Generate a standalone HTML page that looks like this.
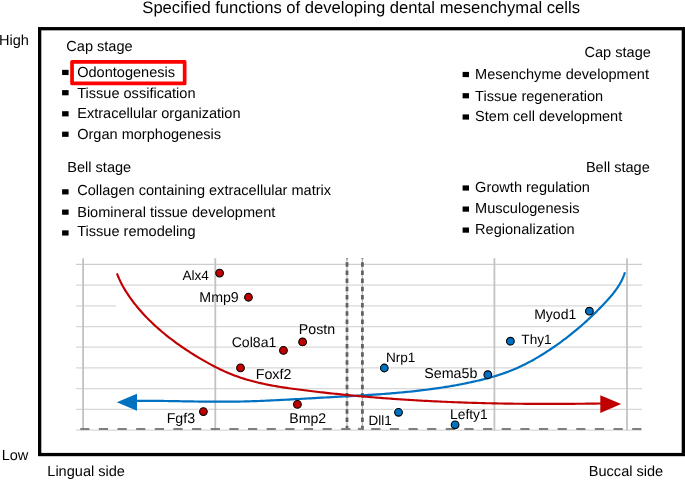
<!DOCTYPE html>
<html><head><meta charset="utf-8"><title>Specified functions of developing dental mesenchymal cells</title>
<style>html,body{margin:0;padding:0;background:#fff;width:685px;height:480px;overflow:hidden}svg{display:block;will-change:transform}text{font-family:"Liberation Sans",sans-serif}</style>
</head><body>
<svg width="685" height="480" viewBox="0 0 685 480" font-family="Liberation Sans, sans-serif" font-size="14.56" fill="#000" text-rendering="geometricPrecision"><text x="142.30" y="12.80" font-size="16.63">Specified functions of developing dental mesenchymal cells</text>
<text x="-1.00" y="44.70">High</text>
<text x="1.70" y="459.80">Low</text>
<text x="47.30" y="475.90">Lingual side</text>
<text x="588.80" y="476.00">Buccal side</text>
<rect x="39.65" y="28.7" width="643.7" height="425.85" fill="none" stroke="#000" stroke-width="3.3"/>
<text x="66.30" y="51.40">Cap stage</text>
<text x="77.20" y="76.80">Odontogenesis</text>
<rect x="62.1" y="69.85" width="6.5" height="5.2"/>
<text x="77.20" y="98.40">Tissue ossification</text>
<rect x="62.1" y="90.10" width="6.5" height="5.2"/>
<text x="77.20" y="117.70">Extracellular organization</text>
<rect x="62.1" y="111.20" width="6.5" height="5.2"/>
<text x="77.20" y="139.30">Organ morphogenesis</text>
<rect x="62.1" y="131.65" width="6.5" height="5.2"/>
<text x="67.30" y="172.20">Bell stage</text>
<text x="77.20" y="195.10">Collagen containing extracellular matrix</text>
<rect x="62.1" y="189.25" width="6.5" height="5.2"/>
<text x="77.20" y="216.70">Biomineral tissue development</text>
<rect x="62.1" y="209.55" width="6.5" height="5.2"/>
<text x="77.20" y="236.00">Tissue remodeling</text>
<rect x="62.1" y="230.35" width="6.5" height="5.2"/>
<rect x="72.05" y="61.95" width="112.6" height="21.5" fill="none" stroke="#ff0000" stroke-width="3.7" stroke-linejoin="round"/>
<text x="584.50" y="56.80">Cap stage</text>
<text x="475.10" y="79.30">Mesenchyme development</text>
<rect x="462.6" y="71.90" width="6.4" height="5.2"/>
<text x="475.10" y="100.70">Tissue regeneration</text>
<rect x="462.6" y="93.15" width="6.4" height="5.2"/>
<text x="475.10" y="121.40">Stem cell development</text>
<rect x="462.6" y="114.40" width="6.4" height="5.2"/>
<text x="585.90" y="171.70">Bell stage</text>
<text x="475.10" y="191.60">Growth regulation</text>
<rect x="462.6" y="185.40" width="6.4" height="5.2"/>
<text x="475.10" y="212.80">Musculogenesis</text>
<rect x="462.6" y="206.50" width="6.4" height="5.2"/>
<text x="475.10" y="233.80">Regionalization</text>
<rect x="462.6" y="227.50" width="6.4" height="5.2"/>
<g stroke="#d8d8d8" stroke-width="1.25"><line x1="76" y1="264.4" x2="642" y2="264.4" stroke="#cdcdcd"/><line x1="76" y1="285.1" x2="642" y2="285.1"/><line x1="76" y1="305.8" x2="116" y2="305.8"/><line x1="137" y1="305.8" x2="642" y2="305.8"/><line x1="76" y1="326.5" x2="642" y2="326.5"/><line x1="76" y1="347.2" x2="642" y2="347.2"/><line x1="76" y1="367.9" x2="642" y2="367.9"/><line x1="76" y1="388.6" x2="642" y2="388.6"/><line x1="76" y1="409.3" x2="642" y2="409.3"/><line x1="76" y1="430.0" x2="642" y2="430.0"/></g>
<g fill="#fff"><circle cx="219.60" cy="273.10" r="5.5"/><circle cx="248.45" cy="297.25" r="5.5"/><circle cx="283.45" cy="350.40" r="5.5"/><circle cx="302.60" cy="341.95" r="5.5"/><circle cx="240.50" cy="367.90" r="5.5"/><circle cx="203.40" cy="411.60" r="5.5"/><circle cx="297.40" cy="404.40" r="5.5"/><circle cx="384.30" cy="368.00" r="5.5"/><circle cx="398.50" cy="412.30" r="5.5"/><circle cx="455.10" cy="424.80" r="5.5"/><circle cx="487.80" cy="374.70" r="5.5"/><circle cx="510.40" cy="341.20" r="5.5"/><circle cx="589.40" cy="311.20" r="5.5"/></g>
<g stroke="#c2c2c2" stroke-width="1.8"><line x1="83.1" y1="258.2" x2="83.1" y2="430.5"/><line x1="215.3" y1="258.2" x2="215.3" y2="430.5"/><line x1="494.4" y1="258.2" x2="494.4" y2="430.5"/><line x1="627.0" y1="258.2" x2="627.0" y2="430.5"/></g>
<line x1="347.0" y1="258.2" x2="347.0" y2="430" stroke="#b8b8b8" stroke-width="1.2"/>
<line x1="347.0" y1="258.2" x2="347.0" y2="259.2" stroke="#777" stroke-width="2"/>
<line x1="347.0" y1="262.2" x2="347.0" y2="430" stroke="#626262" stroke-width="2.8" stroke-dasharray="4.5 3.675"/>
<line x1="362.4" y1="258.2" x2="362.4" y2="430" stroke="#b8b8b8" stroke-width="1.2"/>
<line x1="362.4" y1="258.2" x2="362.4" y2="259.2" stroke="#777" stroke-width="2"/>
<line x1="362.4" y1="262.2" x2="362.4" y2="430" stroke="#626262" stroke-width="2.8" stroke-dasharray="4.5 3.675"/>
<line x1="80.25" y1="428.9" x2="350.5" y2="428.9" stroke="#7f7f7f" stroke-width="2" stroke-dasharray="9.2 9.44"/>
<line x1="357.9" y1="428.9" x2="363.4" y2="428.9" stroke="#7f7f7f" stroke-width="2"/>
<line x1="371.2" y1="428.9" x2="642" y2="428.9" stroke="#7f7f7f" stroke-width="2" stroke-dasharray="9.2 9.44"/>
<path d="M135.03,400.80 L137.01,400.79 L139.00,400.79 L140.98,400.79 L142.96,400.79 L144.95,400.80 L146.93,400.80 L148.92,400.82 L150.91,400.83 L152.89,400.85 L154.88,400.87 L156.87,400.89 L158.86,400.91 L160.85,400.94 L162.84,400.97 L164.83,400.99 L166.82,401.02 L168.82,401.06 L170.81,401.09 L172.80,401.12 L174.80,401.15 L176.79,401.19 L178.79,401.22 L180.78,401.26 L182.78,401.29 L184.78,401.33 L186.77,401.36 L188.77,401.40 L190.77,401.43 L192.77,401.46 L194.77,401.49 L196.77,401.52 L198.76,401.55 L200.77,401.58 L202.77,401.60 L204.77,401.63 L206.77,401.65 L208.77,401.67 L210.77,401.68 L212.77,401.70 L214.78,401.71 L216.78,401.72 L218.78,401.72 L220.79,401.72 L222.79,401.72 L224.79,401.72 L226.80,401.71 L228.80,401.69 L230.81,401.68 L232.81,401.65 L234.82,401.63 L236.82,401.60 L238.83,401.56 L240.84,401.52 L242.84,401.48 L244.85,401.43 L246.85,401.38 L248.86,401.32 L250.87,401.26 L252.87,401.19 L254.88,401.12 L256.89,401.05 L258.89,400.98 L260.90,400.90 L262.91,400.82 L264.91,400.73 L266.92,400.65 L268.93,400.56 L270.93,400.47 L272.94,400.37 L274.95,400.27 L276.95,400.17 L278.96,400.07 L280.97,399.97 L282.97,399.87 L284.98,399.76 L286.99,399.65 L288.99,399.54 L291.00,399.43 L293.01,399.32 L295.01,399.21 L297.02,399.09 L299.02,398.98 L301.03,398.87 L303.03,398.75 L305.04,398.64 L307.04,398.52 L309.05,398.41 L311.05,398.29 L313.06,398.18 L315.06,398.06 L317.06,397.95 L319.07,397.83 L321.07,397.72 L323.07,397.61 L325.08,397.50 L327.08,397.39 L329.08,397.28 L331.08,397.17 L333.08,397.06 L335.08,396.95 L337.08,396.84 L339.08,396.73 L341.08,396.62 L343.08,396.51 L345.08,396.40 L347.08,396.29 L349.08,396.18 L351.07,396.06 L353.07,395.95 L355.07,395.83 L357.06,395.71 L359.06,395.59 L361.05,395.47 L363.05,395.35 L365.04,395.23 L367.03,395.10 L369.03,394.97 L371.02,394.84 L373.01,394.71 L375.00,394.57 L376.99,394.43 L378.98,394.29 L380.97,394.15 L382.96,394.00 L384.94,393.85 L386.93,393.70 L388.92,393.54 L390.90,393.38 L392.89,393.21 L394.87,393.05 L396.85,392.87 L398.84,392.70 L400.82,392.52 L402.80,392.33 L404.78,392.14 L406.76,391.95 L408.74,391.75 L410.72,391.54 L412.69,391.34 L414.67,391.12 L416.64,390.90 L418.62,390.68 L420.59,390.45 L422.57,390.21 L424.54,389.97 L426.51,389.72 L428.48,389.47 L430.45,389.21 L432.42,388.94 L434.38,388.67 L436.35,388.39 L438.31,388.11 L440.28,387.81 L442.24,387.51 L444.20,387.21 L446.17,386.89 L448.13,386.57 L450.09,386.24 L452.04,385.91 L454.00,385.56 L455.96,385.21 L457.91,384.85 L459.87,384.48 L461.82,384.11 L463.77,383.72 L465.72,383.33 L467.67,382.93 L469.62,382.52 L471.56,382.10 L473.51,381.67 L475.46,381.23 L477.40,380.78 L479.34,380.32 L481.28,379.85 L483.21,379.37 L485.15,378.87 L487.08,378.36 L489.01,377.84 L490.93,377.30 L492.85,376.75 L494.77,376.18 L496.68,375.60 L498.59,375.00 L500.49,374.38 L502.39,373.74 L504.28,373.09 L506.17,372.41 L508.05,371.71 L509.93,371.00 L511.80,370.26 L513.67,369.50 L515.52,368.72 L517.38,367.92 L519.22,367.09 L521.06,366.23 L522.88,365.36 L524.71,364.46 L526.52,363.54 L528.32,362.60 L530.12,361.64 L531.91,360.67 L533.69,359.67 L535.46,358.66 L537.22,357.63 L538.97,356.59 L540.71,355.54 L542.44,354.47 L544.16,353.39 L545.87,352.30 L547.56,351.20 L549.25,350.09 L550.93,348.98 L552.59,347.85 L554.24,346.72 L555.88,345.58 L557.52,344.43 L559.14,343.27 L560.75,342.10 L562.35,340.93 L563.94,339.74 L565.52,338.55 L567.09,337.35 L568.65,336.13 L570.21,334.91 L571.75,333.68 L573.29,332.44 L574.82,331.19 L576.33,329.93 L577.85,328.66 L579.35,327.38 L580.84,326.09 L582.33,324.79 L583.81,323.48 L585.28,322.16 L586.75,320.83 L588.21,319.49 L589.66,318.14 L591.11,316.78 L592.55,315.40 L593.98,314.02 L595.41,312.62 L596.84,311.22 L598.25,309.80 L599.67,308.37 L601.07,306.93 L602.48,305.48 L603.87,304.02 L605.26,302.54 L606.65,301.05 L608.01,299.55 L609.36,298.03 L610.69,296.49 L611.99,294.94 L613.26,293.37 L614.50,291.78 L615.70,290.17 L616.86,288.54 L617.97,286.89 L619.04,285.21 L620.05,283.51 L621.01,281.78 L621.90,280.03 L622.73,278.25 L623.49,276.44 L624.18,274.60 L624.79,272.73 L624.94,272.24" fill="none" stroke="#0070c0" stroke-width="2.2" stroke-linecap="butt" stroke-linejoin="round"/>
<polygon points="116.8,402.2 137,393.8 137,410.8" fill="#0070c0"/>
<path d="M116.92,273.33 L117.63,275.18 L118.39,277.02 L119.18,278.84 L120.01,280.64 L120.88,282.43 L121.79,284.20 L122.72,285.95 L123.70,287.69 L124.70,289.40 L125.74,291.11 L126.80,292.79 L127.89,294.46 L129.01,296.11 L130.15,297.75 L131.31,299.37 L132.50,300.98 L133.70,302.57 L134.93,304.14 L136.18,305.70 L137.44,307.24 L138.72,308.77 L140.02,310.28 L141.34,311.78 L142.68,313.26 L144.03,314.73 L145.40,316.18 L146.78,317.62 L148.18,319.04 L149.60,320.45 L151.03,321.85 L152.47,323.23 L153.93,324.60 L155.40,325.95 L156.88,327.29 L158.37,328.62 L159.88,329.93 L161.39,331.23 L162.92,332.52 L164.46,333.79 L166.01,335.05 L167.57,336.30 L169.14,337.53 L170.72,338.76 L172.32,339.97 L173.92,341.17 L175.53,342.36 L177.15,343.53 L178.78,344.70 L180.42,345.85 L182.07,347.00 L183.73,348.13 L185.39,349.25 L187.07,350.37 L188.75,351.47 L190.45,352.56 L192.15,353.65 L193.86,354.72 L195.58,355.78 L197.30,356.84 L199.04,357.88 L200.78,358.91 L202.53,359.93 L204.28,360.94 L206.04,361.93 L207.81,362.92 L209.59,363.89 L211.37,364.84 L213.16,365.79 L214.96,366.72 L216.76,367.63 L218.57,368.53 L220.39,369.41 L222.21,370.27 L224.03,371.11 L225.86,371.93 L227.70,372.72 L229.54,373.50 L231.39,374.25 L233.24,374.97 L235.10,375.68 L236.96,376.36 L238.83,377.01 L240.70,377.65 L242.57,378.26 L244.45,378.86 L246.34,379.43 L248.23,379.99 L250.12,380.52 L252.02,381.04 L253.92,381.54 L255.83,382.02 L257.73,382.49 L259.65,382.94 L261.57,383.38 L263.49,383.80 L265.41,384.21 L267.34,384.60 L269.27,384.98 L271.21,385.35 L273.14,385.71 L275.09,386.05 L277.03,386.39 L278.98,386.72 L280.93,387.03 L282.89,387.34 L284.84,387.64 L286.80,387.93 L288.77,388.21 L290.73,388.49 L292.70,388.76 L294.67,389.03 L296.64,389.29 L298.62,389.55 L300.60,389.80 L302.58,390.05 L304.56,390.30 L306.54,390.55 L308.53,390.79 L310.52,391.03 L312.51,391.27 L314.50,391.51 L316.49,391.74 L318.49,391.97 L320.49,392.20 L322.48,392.43 L324.48,392.65 L326.48,392.87 L328.49,393.09 L330.49,393.31 L332.50,393.52 L334.50,393.73 L336.51,393.94 L338.52,394.15 L340.52,394.35 L342.53,394.56 L344.54,394.76 L346.55,394.95 L348.56,395.15 L350.58,395.34 L352.59,395.53 L354.60,395.72 L356.61,395.90 L358.62,396.09 L360.64,396.27 L362.65,396.44 L364.66,396.62 L366.67,396.79 L368.69,396.96 L370.70,397.13 L372.71,397.30 L374.72,397.46 L376.73,397.62 L378.74,397.78 L380.75,397.94 L382.76,398.10 L384.76,398.25 L386.77,398.40 L388.78,398.55 L390.78,398.69 L392.78,398.83 L394.79,398.98 L396.79,399.11 L398.79,399.25 L400.80,399.38 L402.80,399.52 L404.80,399.65 L406.80,399.77 L408.80,399.90 L410.79,400.02 L412.79,400.14 L414.79,400.26 L416.79,400.38 L418.78,400.49 L420.78,400.61 L422.77,400.72 L424.77,400.82 L426.76,400.93 L428.76,401.03 L430.75,401.14 L432.74,401.24 L434.74,401.33 L436.73,401.43 L438.72,401.52 L440.71,401.62 L442.70,401.71 L444.70,401.79 L446.69,401.88 L448.68,401.96 L450.67,402.05 L452.66,402.13 L454.65,402.21 L456.64,402.28 L458.63,402.36 L460.62,402.43 L462.60,402.50 L464.59,402.57 L466.58,402.64 L468.57,402.70 L470.56,402.76 L472.55,402.83 L474.54,402.88 L476.53,402.94 L478.51,403.00 L480.50,403.05 L482.49,403.11 L484.48,403.16 L486.47,403.21 L488.46,403.25 L490.45,403.30 L492.43,403.34 L494.42,403.38 L496.41,403.43 L498.40,403.46 L500.39,403.50 L502.38,403.54 L504.37,403.57 L506.36,403.60 L508.35,403.63 L510.34,403.66 L512.33,403.69 L514.32,403.72 L516.31,403.74 L518.30,403.76 L520.30,403.78 L522.29,403.80 L524.28,403.82 L526.27,403.84 L528.27,403.85 L530.26,403.87 L532.25,403.88 L534.25,403.89 L536.24,403.90 L538.24,403.91 L540.23,403.91 L542.23,403.92 L544.23,403.92 L546.22,403.93 L548.22,403.93 L550.22,403.93 L552.22,403.92 L554.22,403.92 L556.22,403.92 L558.22,403.91 L560.22,403.90 L562.22,403.89 L564.23,403.88 L566.23,403.87 L568.23,403.86 L570.24,403.85 L572.25,403.83 L574.25,403.82 L576.26,403.80 L578.27,403.78 L580.28,403.76 L582.29,403.74 L584.30,403.72 L586.31,403.69 L588.32,403.67 L590.33,403.64 L592.35,403.62 L594.36,403.59 L596.38,403.56 L598.40,403.53 L600.41,403.50 L602.02,403.47" fill="none" stroke="#c00000" stroke-width="2.15" stroke-linecap="butt" stroke-linejoin="round"/>
<polygon points="621.2,404.1 600.3,395.3 600.3,413" fill="#c00000"/>
<circle cx="219.60" cy="273.10" r="3.85" fill="#c00000" stroke="#000" stroke-width="1.1"/>
<circle cx="248.45" cy="297.25" r="3.85" fill="#c00000" stroke="#000" stroke-width="1.1"/>
<circle cx="283.45" cy="350.40" r="3.85" fill="#c00000" stroke="#000" stroke-width="1.1"/>
<circle cx="302.60" cy="341.95" r="3.85" fill="#c00000" stroke="#000" stroke-width="1.1"/>
<circle cx="240.50" cy="367.90" r="3.85" fill="#c00000" stroke="#000" stroke-width="1.1"/>
<circle cx="203.40" cy="411.60" r="3.85" fill="#c00000" stroke="#000" stroke-width="1.1"/>
<circle cx="297.40" cy="404.40" r="3.85" fill="#c00000" stroke="#000" stroke-width="1.1"/>
<circle cx="384.30" cy="368.00" r="3.85" fill="#0070c0" stroke="#000" stroke-width="1.1"/>
<circle cx="398.50" cy="412.30" r="3.85" fill="#0070c0" stroke="#000" stroke-width="1.1"/>
<circle cx="455.10" cy="424.80" r="3.85" fill="#0070c0" stroke="#000" stroke-width="1.1"/>
<circle cx="487.80" cy="374.70" r="3.85" fill="#0070c0" stroke="#000" stroke-width="1.1"/>
<circle cx="510.40" cy="341.20" r="3.85" fill="#0070c0" stroke="#000" stroke-width="1.1"/>
<circle cx="589.40" cy="311.20" r="3.85" fill="#0070c0" stroke="#000" stroke-width="1.1"/>
<text x="182.44" y="279.90" font-size="13.6">Alx4</text>
<text x="199.32" y="301.60" font-size="14.2">Mmp9</text>
<text x="231.70" y="346.80" font-size="14.1">Col8a1</text>
<text x="298.81" y="333.80" font-size="14.2">Postn</text>
<text x="255.70" y="379.30" font-size="14.3">Foxf2</text>
<text x="166.67" y="422.60" font-size="14.2">Fgf3</text>
<text x="289.31" y="423.30" font-size="14.1">Bmp2</text>
<text x="385.93" y="361.60" font-size="13.6">Nrp1</text>
<text x="368.60" y="424.70" font-size="13.5">Dll1</text>
<text x="450.07" y="418.60" font-size="13.8">Lefty1</text>
<text x="424.19" y="378.20" font-size="14.3">Sema5b</text>
<text x="521.35" y="343.60" font-size="13.6">Thy1</text>
<text x="534.20" y="319.40" font-size="14.0">Myod1</text></svg>
</body></html>
